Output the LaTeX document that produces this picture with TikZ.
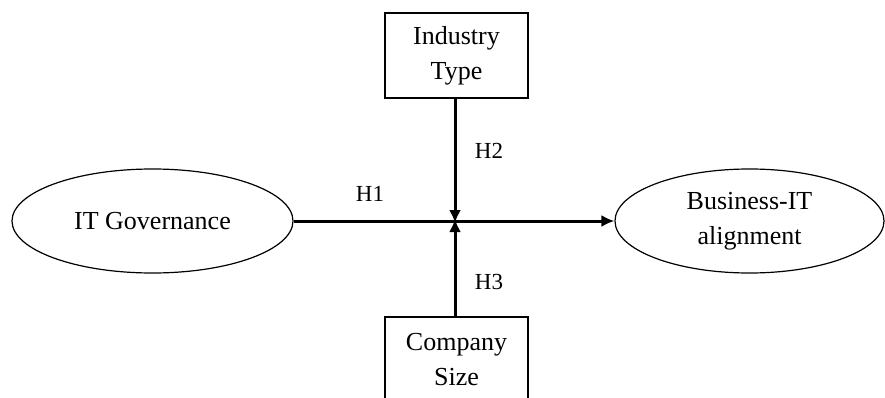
\documentclass[tikz,border=0pt]{standalone}
\usepackage{fontspec}
\setmainfont{Liberation Serif}
\usetikzlibrary{shapes.geometric,arrows.meta}
\begin{document}
\begin{tikzpicture}[x=1pt,y=-1pt,
  every node/.style={font=\fontsize{26}{35}\selectfont, inner sep=0pt},
  construct/.style={draw, ellipse, line width=1.2pt},
  moderator/.style={draw, rectangle, line width=1.6pt, align=center},
  path/.style={line width=3pt, -{Latex[length=13pt,width=12pt]}},
  hyp/.style={font=\fontsize{23}{26}\selectfont}]
  \useasboundingbox[fill=white] (0,0) rectangle (885,398);

  % constructs
  \node[construct, minimum width=281pt, minimum height=104pt] (gov) at (152.5,221) {IT Governance};
  \node[construct, minimum width=269pt, minimum height=104pt, align=center] (bia) at (749.5,221) {Business-IT\\alignment};

  % moderators
  \node[moderator, minimum width=143pt, minimum height=85pt] (ind) at (456.5,55.5) {Industry\\Type};
  \node[moderator, minimum width=143pt, minimum height=85pt] (size) at (456.5,359.5) {Company\\Size};

  % meeting point of the moderating paths
  \coordinate (mid) at (455,221);

  % main effect and moderating effects
  \draw[path] (gov.east) -- (bia.west);
  \draw[path] (ind.south -| mid) -- ([yshift=-2pt]mid);
  \draw[path] (size.north -| mid) -- ([yshift=2pt]mid);

  % hypothesis labels
  \node[hyp] (h1) at (370,194) {H1};
  \node[hyp] (h2) at (489,151) {H2};
  \node[hyp] (h3) at (489,282) {H3};
\end{tikzpicture}
\end{document}
